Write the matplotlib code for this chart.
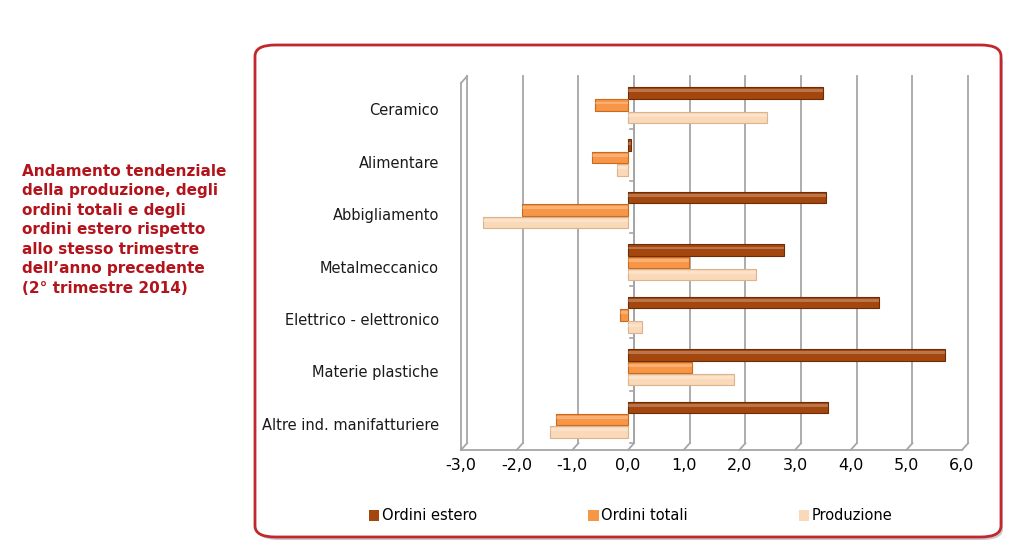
import matplotlib
matplotlib.use('Agg')
import matplotlib.pyplot as plt
from matplotlib.patches import FancyBboxPatch, Patch
import numpy as np

categories = ['Ceramico', 'Alimentare', 'Abbigliamento', 'Metalmeccanico',
              'Elettrico - elettronico', 'Materie plastiche', 'Altre ind. manifatturiere']
ordini_estero = [3.5, 0.05, 3.55, 2.8, 4.5, 5.7, 3.6]
ordini_totali = [-0.6, -0.65, -1.9, 1.1, -0.15, 1.15, -1.3]
produzione = [2.5, -0.2, -2.6, 2.3, 0.25, 1.9, -1.4]
xticks = [-3, -2, -1, 0, 1, 2, 3, 4, 5, 6]

series = [('Ordini estero', ordini_estero, '#A3470F', '#6E2C05'),
          ('Ordini totali', ordini_totali, '#F79646', '#C8691E'),
          ('Produzione', produzione, '#FAD9B8', '#D9B48E')]

fig = plt.figure(figsize=(10.23, 5.59), dpi=100)

# riquadro rosso arrotondato
W, H = 1023, 559
shadow = FancyBboxPatch((258 / W, 1 - 540 / H), 745 / W, 490 / H,
                        boxstyle='round,pad=0,rounding_size=0.02',
                        transform=fig.transFigure, facecolor='#999999',
                        edgecolor='none', alpha=0.5, zorder=0)
box = FancyBboxPatch((255 / W, 1 - 537 / H), 746 / W, 492 / H,
                     boxstyle='round,pad=0,rounding_size=0.02',
                     transform=fig.transFigure, facecolor='white',
                     edgecolor='#C0282D', linewidth=2, zorder=0.5)
fig.patches.extend([shadow, box])

ax = fig.add_axes([461 / W, 1 - 450 / H, 501 / W, 367 / H])
ax.set_zorder(2)
ax.patch.set_alpha(0)

xmin, xmax = -3, 6
ytop, ybot = -0.5, len(categories) - 0.5
dx, dy = 0.11, -0.13  # profondita' 3D

grid_c = '#A6A6A6'
# pareti / griglia
for x in xticks:
    ax.plot([x + dx, x + dx], [ybot + dy, ytop + dy], color=grid_c, lw=1.3, clip_on=False, zorder=1)
    ax.plot([x, x + dx], [ybot, ybot + dy], color=grid_c, lw=1.3, clip_on=False, zorder=1)
ax.plot([xmin, xmax], [ybot, ybot], color=grid_c, lw=1.3, clip_on=False, zorder=1)
ax.plot([xmin, xmin], [ybot, ytop], color=grid_c, lw=1.3, clip_on=False, zorder=1)
ax.plot([xmin, xmin + dx], [ytop, ytop + dy], color=grid_c, lw=1.3, clip_on=False, zorder=1)

# asse delle categorie a zero
ax.plot([dx, dx], [ybot + dy, ytop + dy], color=grid_c, lw=1.3, zorder=1)
for b in np.arange(ytop, ybot + 0.01, 1.0):
    ax.plot([dx - 0.08, dx], [b + dy, b + dy], color=grid_c, lw=1.2, zorder=1)

y = np.arange(len(categories))
h = 0.22
for i, (name, vals, fc, ec) in enumerate(series):
    pos = y + (i - 1) * 0.235 + dy * 0.6
    ax.barh(pos, vals, height=h, left=0, color=fc, edgecolor=ec, linewidth=0.8, zorder=3)
    # riflesso per effetto cilindrico
    ax.barh(pos - h * 0.18, vals, height=h * 0.25, left=0, color='white', alpha=0.25,
            linewidth=0, zorder=4)

ax.set_xlim(xmin, xmax)
ax.set_ylim(ybot, ytop)
ax.set_xticks(xticks)
ax.set_xticklabels([f'{v:.1f}'.replace('.', ',') for v in xticks], fontsize=11.5)
ax.set_yticks(y)
ax.set_yticklabels(categories, fontsize=10.5, color='#1A1A1A')
ax.tick_params(length=0, pad=16)
ax.tick_params(axis='x', pad=6)
for s in ax.spines.values():
    s.set_visible(False)

handles = [Patch(facecolor=fc, edgecolor='none', label=name) for name, _, fc, _ in series]
fig.legend(handles=handles, loc='center', bbox_to_anchor=(631 / W, 1 - 516 / H), ncol=3,
           frameon=False, fontsize=10.5, handlelength=0.7, handleheight=0.7,
           handletextpad=0.2, columnspacing=7.6)

title = ("Andamento tendenziale\ndella produzione, degli\nordini totali e degli\n"
         "ordini estero rispetto\nallo stesso trimestre\ndell\u2019anno precedente\n(2\u00b0 trimestre 2014)")
fig.text(22 / W, 1 - 164 / H, title, color='#B3131B', fontsize=11, fontweight='bold',
         va='top', ha='left', linespacing=1.37)

fig.savefig('out.png', dpi=100)
plt.close()
